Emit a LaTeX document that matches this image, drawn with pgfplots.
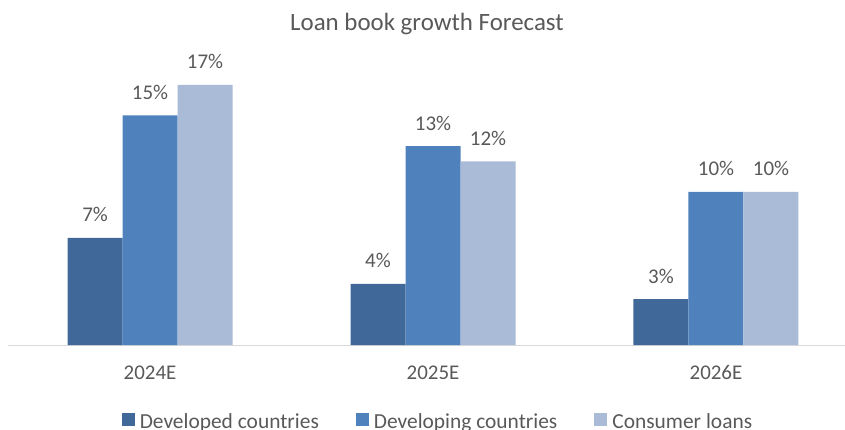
\documentclass[border=0pt]{standalone}
\usepackage{fontspec}
\setmainfont{Carlito}
\usepackage{pgfplots}
\pgfplotsset{compat=1.18}
\definecolor{devd}{HTML}{406999}
\definecolor{devg}{HTML}{4F81BD}
\definecolor{cons}{HTML}{AABBD8}
\definecolor{txt}{HTML}{595959}
\definecolor{axl}{HTML}{D9D9D9}
\begin{document}
\begin{tikzpicture}
\begin{axis}[
  at={(0,0)}, anchor=south west,
  scale only axis, width=837bp, height=306bp,
  xmin=-0.502, xmax=2.456, ymin=0, ymax=20,
  axis x line=bottom, axis y line=none,
  axis line style={draw=axl, -, line width=1bp},
  ybar=0pt, bar width=55bp,
  xtick={0,1,2}, xticklabels={2024E,2025E,2026E},
  major tick length=0pt,
  xticklabel style={anchor=base, yshift=-34bp, font=\fontsize{21}{25}\selectfont, text=txt},
  /pgf/number format/assume math mode=true,
  nodes near coords={\pgfmathprintnumber{\pgfplotspointmeta}\%},
  every node near coord/.append style={anchor=base, yshift=16bp, font=\fontsize{21}{25}\selectfont, text=txt},
  title={Loan book growth Forecast},
  title style={at={(0.5006,1.0098)}, anchor=base, yshift=0pt, font=\fontsize{25}{30}\selectfont, text=txt},
  legend columns=-1,
  legend image code/.code={\fill[#1] (0bp,-4bp) rectangle (13bp,9bp);},
  legend style={at={(0.5125,-0.2777)}, anchor=south, draw=none, fill=none,
    inner sep=0pt, font=\fontsize{21.5}{25}\selectfont, text=txt,
    nodes={inner sep=0pt},
    /tikz/every odd column/.append style={column sep=5bp},
    /tikz/every even column/.append style={column sep=37bp}},
]
\addplot[fill=devd, draw=none] coordinates {(0,7) (1,4) (2,3)};
\addlegendentry{Developed countries}
\addplot[fill=devg, draw=none] coordinates {(0,15) (1,13) (2,10)};
\addlegendentry{Developing countries}
\addplot[fill=cons, draw=none] coordinates {(0,17) (1,12) (2,10)};
\addlegendentry{Consumer loans}
\end{axis}
\pgfresetboundingbox
\path[use as bounding box] (-8bp,-85bp) rectangle (837bp,345bp);
\end{tikzpicture}
\end{document}
